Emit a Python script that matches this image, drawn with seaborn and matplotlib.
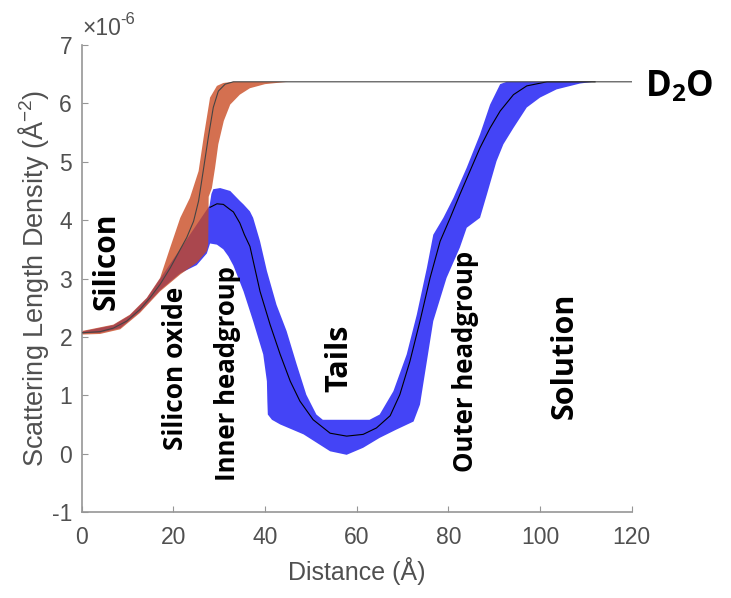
import numpy as np
import pandas as pd
import matplotlib
matplotlib.use("Agg")
import matplotlib.pyplot as plt
import matplotlib.ticker as mticker
import seaborn as sns

# SLD profiles, units of 1e-6 A^-2
d2o_sld = 6.37

# oxide model: best fit line and uncertainty band
oxide_x = [0, 4, 6.9, 9.8, 12.7, 14.9, 17.1, 19.3, 21.5, 22.9, 24.4, 25.5, 26.5,
           27.6, 28.7, 29.8, 31.3, 33.1, 120]
oxide_y = [2.07, 2.09, 2.15, 2.27, 2.47, 2.67, 2.9, 3.18, 3.5, 3.7, 3.98, 4.33, 4.84,
           5.41, 5.93, 6.21, 6.33, 6.37, 6.37]
oxide_up_x = [0, 6.9, 10.5, 14.2, 17.1, 19.3, 21.5, 23.6, 25.5, 26.7, 28, 29.5, 30.9,
              33, 45]
oxide_up_y = [2.1, 2.21, 2.38, 2.67, 3.01, 3.53, 4.04, 4.38, 4.84, 5.47, 6.1, 6.3,
              6.35, 6.37, 6.37]
oxide_lo_x = [45, 40, 36.7, 34.5, 32.4, 31, 29.8, 29.1, 28.4, 27.7, 27.6, 27.3, 25.1,
              21.5, 17.1, 12.7, 8.4, 4, 0]
oxide_lo_y = [6.37, 6.33, 6.26, 6.15, 5.98, 5.7, 5.3, 4.9, 4.55, 4.4, 3.6, 3.47, 3.27,
              3.07, 2.78, 2.41, 2.13, 2.05, 2.04]

# bilayer model: best fit line and uncertainty band
bilayer_x = [28, 29.5, 30.9, 32.4, 33.1, 34.5, 35.5, 36.7, 38.9, 41.1, 43.3, 45.5,
             47.6, 50.5, 54.2, 57.8, 61.4, 64.3, 67.3, 69.4, 71.6, 73.8, 76, 78.2,
             80.4, 82.5, 84.7, 86.9, 89.1, 91.3, 94.2, 97.1, 101.5, 112]
bilayer_y = [4.22, 4.28, 4.27, 4.18, 4.14, 3.95, 3.75, 3.55, 2.78, 2.21, 1.7, 1.24,
             0.9, 0.58, 0.35, 0.3, 0.33, 0.44, 0.65, 1.01, 1.58, 2.27, 3.01, 3.64,
             4.04, 4.44, 4.84, 5.24, 5.58, 5.87, 6.15, 6.3, 6.37, 6.37]
bilayer_up_x = [0, 6.9, 10.5, 14.2, 27.9, 28.3, 28.7, 30.2, 32.4, 34.5, 35.3, 36.7,
                37.4, 38.9, 40.4, 42.5, 44.7, 46.9, 49, 51.2, 52.6, 62.8, 65, 68,
                70.9, 73.1, 75.3, 76.7, 78.9, 81.1, 84, 86.9, 89.1, 91.3, 92.7, 111.6]
bilayer_up_y = [2.09, 2.2, 2.37, 2.66, 4.25, 4.45, 4.53, 4.55, 4.5, 4.33, 4.27, 4.15,
                4.04, 3.64, 3.13, 2.55, 2.1, 1.53, 1.01, 0.67, 0.58, 0.58, 0.67, 1.07,
                1.7, 2.38, 3.18, 3.75, 4.04, 4.38, 4.9, 5.47, 5.98, 6.33, 6.37, 6.37]
bilayer_lo_x = [111.6, 108.7, 103.6, 100, 97.1, 94.2, 92, 90.5, 88.4, 86.9, 84, 82.5,
                79.6, 76.7, 75.3, 73.8, 72.4, 68.6, 65, 61.4, 57.8, 54.2, 51, 48.4,
                43.3, 41.5, 40.6, 40.5, 40.4, 39.6, 37.4, 35.3, 33.1, 32, 30.9, 29.5,
                28, 27.3, 25.1, 21.5, 17.1, 12.7, 8.4, 4, 0]
bilayer_lo_y = [6.37, 6.34, 6.24, 6.1, 5.93, 5.58, 5.3, 5.01, 4.44, 4.04, 3.87, 3.53,
                3.01, 2.27, 1.58, 0.84, 0.55, 0.41, 0.27, 0.1, -0.02, 0.04, 0.2, 0.33,
                0.5, 0.58, 0.67, 0.9, 1.24, 1.7, 2.27, 2.78, 3.22, 3.38, 3.5, 3.58,
                3.6, 3.43, 3.23, 3.09, 2.8, 2.43, 2.15, 2.07, 2.06]

regions = ["Silicon", "Silicon oxide", "Inner headgroup", "Tails", "Outer headgroup", "Solution"]
region_x = [5.45, 20.4, 31.8, 56.3, 83.7, 105.4]
region_y = [3.3, 1.46, 1.37, 1.64, 1.58, 1.67]
region_size = [21.5, 19, 18.5, 22, 18.5, 22]

x_ticks = [0, 20, 40, 60, 80, 100, 120]
y_ticks = [-1, 0, 1, 2, 3, 4, 5, 6, 7]

e6 = 1e-6
oxide = pd.DataFrame({"x": oxide_x, "sld": np.array(oxide_y) * e6})
bilayer = pd.DataFrame({"x": bilayer_x, "sld": np.array(bilayer_y) * e6})

plt.rcParams["axes.unicode_minus"] = False
plt.rcParams["mathtext.fontset"] = "custom"
plt.rcParams["mathtext.rm"] = "Liberation Sans"
plt.rcParams["mathtext.it"] = "Liberation Sans:italic"
plt.rcParams["mathtext.bf"] = "Open Sans:bold"

fig = plt.figure(figsize=(7.31, 5.98), dpi=100)
ax = fig.add_axes([0.1118, 0.1438, 0.7524, 0.7809])

grey = "#505050"
ax.fill(np.concatenate([bilayer_up_x, bilayer_lo_x]),
        np.concatenate([bilayer_up_y, bilayer_lo_y]) * e6,
        color="#4444f6", lw=0, zorder=1)
ax.fill(np.concatenate([oxide_up_x, oxide_lo_x]),
        np.concatenate([oxide_up_y, oxide_lo_y]) * e6,
        color="#c8481f", alpha=0.78, lw=0, zorder=2)

sns.lineplot(data=bilayer, x="x", y="sld", ax=ax, color="black", lw=0.8, zorder=3)
sns.lineplot(data=oxide, x="x", y="sld", ax=ax, color="#444444", lw=0.8, zorder=3)

for name, rx, ry, fs in zip(regions, region_x, region_y, region_size):
    ax.text(rx, ry * e6, name, rotation=90, ha="center", va="center",
            fontsize=fs, fontweight="bold", family="Open Sans", color="black", zorder=5)
ax.text(122.9, 6.12 * e6, r"D$_\mathbf{2}$O", ha="left", va="baseline", fontsize=25,
        family="Open Sans", fontweight="bold", color="black", clip_on=False)

ax.set_xlim(0, 120)
ax.set_ylim(-1e-6, 7e-6)
ax.set_xticks(x_ticks)
ax.set_yticks(np.array(y_ticks) * e6)
ax.yaxis.set_major_formatter(mticker.FuncFormatter(lambda v, p: f"{round(v / e6):d}"))

# exponent label like MATLAB
fig.text(82 / 731, 1 - 35 / 598, "×10", fontsize=16.5, color=grey,
         family="Liberation Sans", va="baseline")
fig.text(120 / 731, 1 - 24 / 598, "-6", fontsize=12, color=grey,
         family="Liberation Sans", va="baseline")

for side in ["top", "right"]:
    ax.spines[side].set_visible(False)
for side in ["left", "bottom"]:
    ax.spines[side].set_color("#969696")
    ax.spines[side].set_linewidth(1.2)
ax.tick_params(direction="in", length=4, color="#969696", labelcolor=grey,
               labelsize=16.5)
ax.tick_params(axis="x", pad=10)
ax.tick_params(axis="y", pad=7)
for lab in ax.get_xticklabels() + ax.get_yticklabels():
    lab.set_family("Liberation Sans")
ax.set_xlabel("Distance (Å)", fontsize=18, color=grey, family="Liberation Sans",
              labelpad=6)
ax.set_ylabel("Scattering Length Density (Å$^{-2}$)", fontsize=19.5, color=grey,
              family="Liberation Sans")
ax.yaxis.set_label_coords(-0.056, 0.5)

fig.savefig("out.png", dpi=100)
